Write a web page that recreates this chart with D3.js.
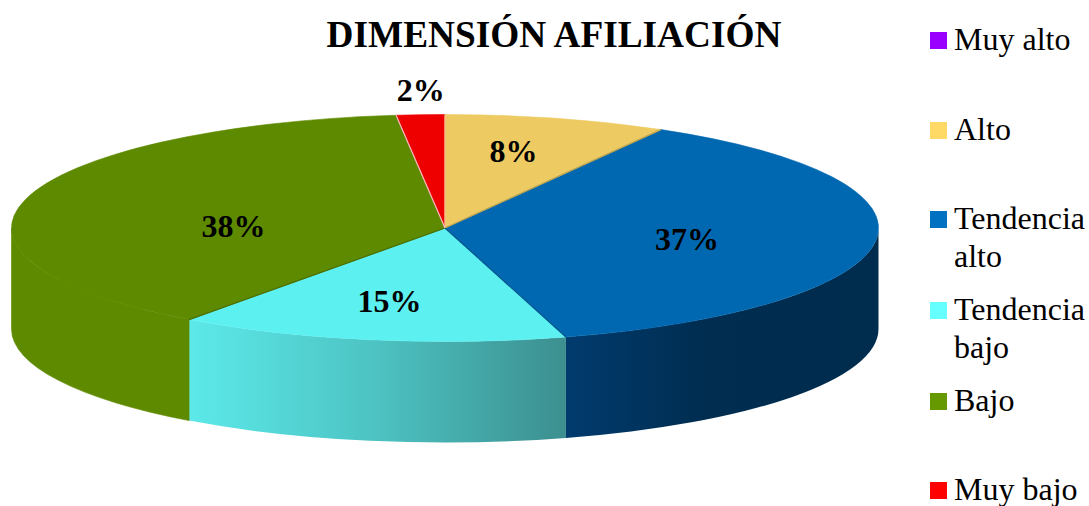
<!DOCTYPE html>
<html>
<head>
<meta charset="utf-8">
<script src="https://cdn.jsdelivr.net/npm/d3@7"></script>
<style>
  html, body { margin: 0; padding: 0; background: #fff; }
  svg { display: block; }
  text { font-family: "Liberation Serif", serif; fill: #000; }
</style>
</head>
<body>
<svg id="chart" width="1089" height="506"></svg>
<script>
const width = 1089, height = 506;

// Data
const categories = ["Muy alto", "Alto", "Tendencia alto", "Tendencia bajo", "Bajo", "Muy bajo"];
const values     = [0, 8.3, 37.2, 14.55, 38.15, 1.8];

// Colours
const legendColors = ["#9900ff", "#ffd966", "#0070c0", "#66ffff", "#669900", "#ff0000"];
const topColors    = ["#9900ff", "#eecb62", "#0068b1", "#5cf0f0", "#5e8a00", "#ee0000"];
// line drawn along the start of each slice
const edgeColors   = [null, "#fbe6a8", "#c9a94a", "#00508a", "#4a6f00", "#f7c0c0"];

// Layout
const cx = 445, cy = 228, rx = 433.5, ry = 113.5, depth = 101;
const labelRadius = [0, 0.605, 0.56, 0.75, 0.507, 1.03];
const labelDy     = [0, 0, 14, 0, 24, -10];
const legendLines = [[["Muy alto"], 50], [["Alto"], 140], [["Tendencia", "alto"], 229],
                     [["Tendencia", "bajo"], 320], [["Bajo"], 411], [["Muy bajo"], 500]];

const svg = d3.select("#chart").attr("viewBox", `0 0 ${width} ${height}`);

const rows = categories.map((name, i) => ({ name, value: values[i], i }));
const arcs = d3.pie().sort(null).value(d => d.value)(rows);

// Side wall shading
const defs = svg.append("defs");
function wallGradient(id, x1, x2, stops) {
  const g = defs.append("linearGradient").attr("id", id)
    .attr("gradientUnits", "userSpaceOnUse")
    .attr("x1", x1).attr("x2", x2).attr("y1", 0).attr("y2", 0);
  stops.forEach(s => g.append("stop").attr("offset", s[0]).attr("stop-color", s[1]));
}
const px = a => cx + rx * Math.sin(a);
const py = a => cy - ry * Math.cos(a);

wallGradient("wall2", px(arcs[2].endAngle), cx + rx, [[0, "#013b6e"], [0.45, "#002d50"], [1, "#002d4e"]]);
wallGradient("wall3", px(arcs[3].endAngle), px(arcs[3].startAngle), [[0, "#5ce9e9"], [0.5, "#4dc2c2"], [1, "#3c8f8f"]]);
wallGradient("wall4", cx - rx, px(arcs[4].startAngle), [[0, "#5e8a00"], [1, "#5e8a00"]]);

// Only the front half of the pie shows a wall
function wallPath(d) {
  const a0 = Math.max(d.startAngle, Math.PI / 2);
  const a1 = Math.min(d.endAngle, Math.PI * 1.5);
  if (a1 <= a0) return null;
  return `M${px(a0)},${py(a0)}A${rx},${ry} 0 0 1 ${px(a1)},${py(a1)}` +
         `L${px(a1)},${py(a1) + depth}A${rx},${ry} 0 0 0 ${px(a0)},${py(a0) + depth}Z`;
}

svg.append("g").selectAll("path")
  .data(arcs.filter(d => wallPath(d)))
  .join("path")
  .attr("d", wallPath)
  .attr("fill", d => `url(#wall${d.data.i})`)
  .attr("stroke", d => d.data.i === 4 ? "#5e8a00" : "none")
  .attr("stroke-width", 0.6);

// Top face: circular arc squashed into the ellipse
const arc = d3.arc().innerRadius(0).outerRadius(rx);
const drawn = arcs.filter(d => d.value > 0);
svg.append("g")
  .attr("transform", `translate(${cx},${cy}) scale(1,${ry / rx})`)
  .selectAll("path")
  .data(drawn)
  .join("path")
  .attr("d", arc)
  .attr("fill", d => topColors[d.data.i])
  .attr("stroke", d => topColors[d.data.i])
  .attr("stroke-width", 0.6)
  .attr("vector-effect", "non-scaling-stroke");

// Thin seams between the slices
svg.append("g").selectAll("line")
  .data(drawn)
  .join("line")
  .attr("x1", cx).attr("y1", cy)
  .attr("x2", d => px(d.startAngle))
  .attr("y2", d => py(d.startAngle))
  .attr("stroke", d => edgeColors[d.data.i])
  .attr("stroke-width", 1.2);

// Percent labels
svg.append("g").selectAll("text")
  .data(drawn)
  .join("text")
  .attr("x", d => 1 + cx + rx * labelRadius[d.data.i] * Math.sin((d.startAngle + d.endAngle) / 2))
  .attr("y", d => cy - ry * labelRadius[d.data.i] * Math.cos((d.startAngle + d.endAngle) / 2) + labelDy[d.data.i])
  .attr("text-anchor", "middle")
  .attr("font-size", 32)
  .attr("font-weight", "bold")
  .text(d => d3.format(".0f")(d.value) + "%");

// Title
svg.append("text")
  .attr("x", 554).attr("y", 47)
  .attr("text-anchor", "middle")
  .attr("font-size", 37.3)
  .attr("font-weight", "bold")
  .text("DIMENSIÓN AFILIACIÓN");

// Legend
const legend = svg.append("g").selectAll("g")
  .data(rows)
  .join("g");

legend.append("rect")
  .attr("x", 930)
  .attr("y", d => legendLines[d.i][1] - 18)
  .attr("width", 17).attr("height", 17)
  .attr("fill", d => legendColors[d.i]);

legend.append("text")
  .attr("font-size", 32)
  .selectAll("tspan")
  .data(d => legendLines[d.i][0].map((t, k) => ({ t, y: legendLines[d.i][1] + k * 38 })))
  .join("tspan")
  .attr("x", 954)
  .attr("y", d => d.y)
  .text(d => d.t);
</script>
</body>
</html>
